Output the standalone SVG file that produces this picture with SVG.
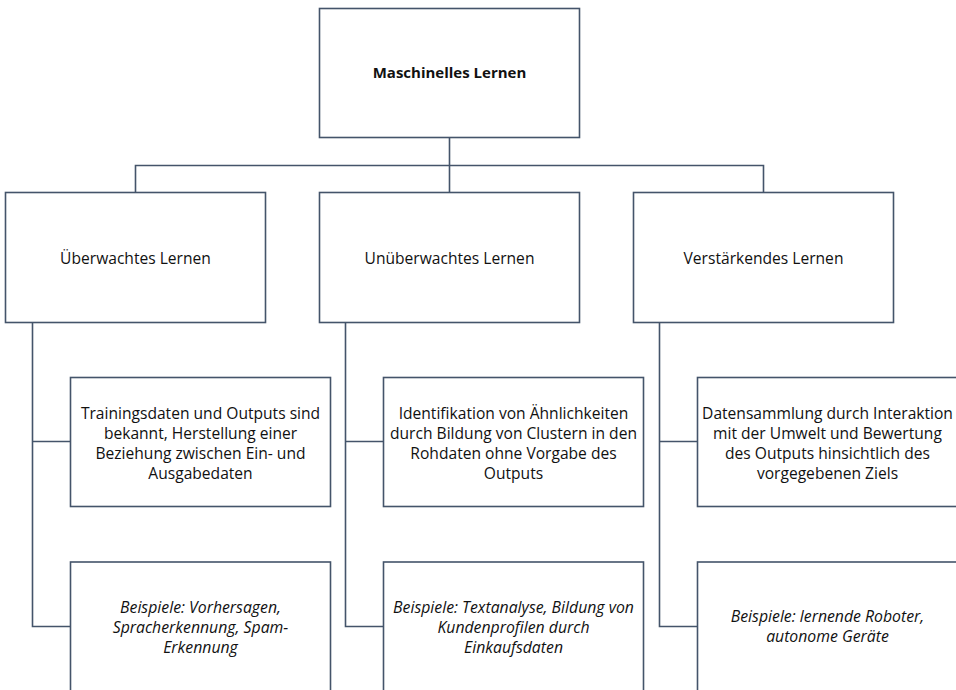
<svg xmlns="http://www.w3.org/2000/svg" width="956" height="690" viewBox="0 0 956 690">
<style>
.box{fill:#fff;stroke:#44546A;stroke-width:1.6}
.ln{fill:none;stroke:#44546A;stroke-width:1.6}
text{font-family:"Open Sans","Noto Sans","Liberation Sans",sans-serif;font-size:15.6px;fill:#111;text-anchor:middle}
.b{font-weight:bold;font-size:15px}
.i{font-style:italic;font-size:15.8px}
</style>
<rect width="956" height="690" fill="#fff"/>
<g id="connectors">
<path class="ln" d="M449.5 137.5V192.5M135.5 192.5V165.5H763.5V192.5"/>
<path class="ln" d="M32.5 322.5V626.5H70.5M32.5 441.5H70.5"/>
<path class="ln" d="M345.5 322.5V626.5H383.5M345.5 441.5H383.5"/>
<path class="ln" d="M659.5 322.5V626.5H697.5M659.5 441.5H697.5"/>
</g>
<g id="root"><rect class="box" x="319.5" y="8.5" width="260" height="129"/><text class="b" x="449.5" y="78">Maschinelles Lernen</text></g>
<g id="ueberwacht"><rect class="box" x="5.5" y="192.5" width="260" height="130"/><text x="135.5" y="264">Überwachtes Lernen</text></g>
<g id="unueberwacht"><rect class="box" x="319.5" y="192.5" width="260" height="130"/><text x="449.5" y="264">Unüberwachtes Lernen</text></g>
<g id="verstaerkend"><rect class="box" x="633.5" y="192.5" width="260" height="130"/><text x="763.5" y="264">Verstärkendes Lernen</text></g>
<g id="desc1"><rect class="box" x="70.5" y="377.5" width="260" height="129"/><text x="200.5"><tspan x="200.5" y="418.5">Trainingsdaten und Outputs sind</tspan><tspan x="200.5" y="438.5">bekannt, Herstellung einer</tspan><tspan x="200.5" y="458.5">Beziehung zwischen Ein- und</tspan><tspan x="200.5" y="478.5">Ausgabedaten</tspan></text></g>
<g id="desc2"><rect class="box" x="383.5" y="377.5" width="260" height="129"/><text x="513.5"><tspan x="513.5" y="418.5">Identifikation von Ähnlichkeiten</tspan><tspan x="513.5" y="438.5">durch Bildung von Clustern in den</tspan><tspan x="513.5" y="458.5">Rohdaten ohne Vorgabe des</tspan><tspan x="513.5" y="478.5">Outputs</tspan></text></g>
<g id="desc3"><rect class="box" x="697.5" y="377.5" width="262" height="129"/><text x="827.5"><tspan x="827.5" y="418.5">Datensammlung durch Interaktion</tspan><tspan x="827.5" y="438.5">mit der Umwelt und Bewertung</tspan><tspan x="827.5" y="458.5">des Outputs hinsichtlich des</tspan><tspan x="827.5" y="478.5">vorgegebenen Ziels</tspan></text></g>
<g id="ex1"><rect class="box" x="70.5" y="562" width="260" height="140"/><text class="i" x="200.5"><tspan x="200.5" y="612.5">Beispiele: Vorhersagen,</tspan><tspan x="200.5" y="632.5">Spracherkennung, Spam-</tspan><tspan x="200.5" y="652.5">Erkennung</tspan></text></g>
<g id="ex2"><rect class="box" x="383.5" y="562" width="260" height="140"/><text class="i" x="513.5"><tspan x="513.5" y="612.5">Beispiele: Textanalyse, Bildung von</tspan><tspan x="513.5" y="632.5">Kundenprofilen durch</tspan><tspan x="513.5" y="652.5">Einkaufsdaten</tspan></text></g>
<g id="ex3"><rect class="box" x="697.5" y="562" width="262" height="140"/><text class="i" x="827.5"><tspan x="827.5" y="622">Beispiele: lernende Roboter,</tspan><tspan x="827.5" y="642">autonome Geräte</tspan></text></g>
</svg>
